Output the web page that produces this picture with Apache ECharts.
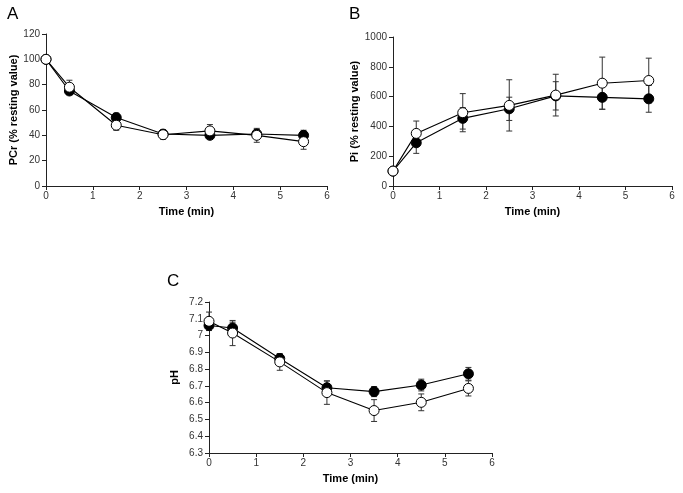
<!DOCTYPE html>
<html>
<head>
<meta charset="utf-8">
<script src="https://cdn.jsdelivr.net/npm/echarts@6/dist/echarts.min.js"></script>
<style>
html,body{margin:0;padding:0;background:#fff;}
#chart{width:683px;height:493px;}
</style>
</head>
<body>
<div id="chart"></div>
<script>
// Time points (min)
var times = [0, 0.5, 1.5, 2.5, 3.5, 4.5, 5.5];

// Panel A: PCr (% resting value)
var pcrFilled    = [100, 75, 54, 41, 40, 41, 40];
var pcrFilledErr = [0, 2.5, 3.5, 3, 2, 3.5, 4];
var pcrOpen      = [100, 78, 48, 40.5, 43.5, 40, 35];
var pcrOpenErr   = [0, 5.5, 4, 3.5, 5, 5.5, 6];

// Panel B: Pi (% resting value)
var piFilled    = [100, 290, 454, 518, 605, 595, 585];
var piFilledErr = [0, 71, 72, 78, 95, 80, 90];
var piOpen      = [100, 353, 492, 541, 610, 690, 708];
var piOpenErr   = [0, 83, 128, 172, 140, 175, 150];

// Panel C: pH
var phFilled    = [7.06, 7.045, 6.863, 6.689, 6.666, 6.705, 6.772];
var phFilledErr = [0.03, 0.035, 0.025, 0.04, 0.03, 0.035, 0.038];
var phOpen      = [7.085, 7.015, 6.843, 6.66, 6.553, 6.602, 6.685];
var phOpenErr   = [0.055, 0.075, 0.05, 0.07, 0.065, 0.05, 0.045];

var panelLabels = ['A', 'B', 'C'];
var xTitle = 'Time (min)';
var yTitles = ['PCr (% resting value)', 'Pi (% resting value)', 'pH'];

function pts(vals) { return times.map(function (t, i) { return [t, vals[i]]; }); }
function errPts(vals, errs) {
  return times.map(function (t, i) { return [t, vals[i] - errs[i], vals[i] + errs[i]]; });
}

function errRender(params, api) {
  var x = api.value(0), lo = api.value(1), hi = api.value(2);
  if (hi - lo === 0) return;
  var pTop = api.coord([x, hi]);
  var pBot = api.coord([x, lo]);
  var w = 3;
  var st = { stroke: '#333', lineWidth: 1 };
  return {
    type: 'group',
    children: [
      { type: 'line', shape: { x1: pTop[0], y1: pTop[1], x2: pBot[0], y2: pBot[1] }, style: st },
      { type: 'line', shape: { x1: pTop[0] - w, y1: pTop[1], x2: pTop[0] + w, y2: pTop[1] }, style: st },
      { type: 'line', shape: { x1: pBot[0] - w, y1: pBot[1], x2: pBot[0] + w, y2: pBot[1] }, style: st }
    ]
  };
}

var font = '"Liberation Sans", Arial, sans-serif';

function xAx(idx) {
  return {
    gridIndex: idx, type: 'value', min: 0, max: 6, interval: 1,
    name: xTitle, nameLocation: 'middle', nameGap: 20,
    nameTextStyle: { fontFamily: font, fontWeight: 'bold', fontSize: 11, color: '#000' },
    axisLine: { lineStyle: { color: '#222', width: 1 } },
    axisTick: { inside: false, length: 4, lineStyle: { color: '#222' } },
    axisLabel: { fontFamily: font, fontSize: 10, color: '#333', margin: 5 },
    splitLine: { show: false }
  };
}
function yAx(idx, min, max, interval, name, gap) {
  return {
    gridIndex: idx, type: 'value', min: min, max: max, interval: interval,
    name: name, nameLocation: 'middle', nameGap: gap,
    nameTextStyle: { fontFamily: font, fontWeight: 'bold', fontSize: 11, color: '#000' },
    axisLine: { show: true, lineStyle: { color: '#222', width: 1 } },
    axisTick: { show: true, inside: false, length: 4, lineStyle: { color: '#222' } },
    axisLabel: {
      fontFamily: font, fontSize: 10, color: '#333', margin: 6,
      formatter: function (v) { return String(+v.toFixed(1)); }
    },
    splitLine: { show: false }
  };
}

function lineSeries(idx, data, filled) {
  return {
    type: 'line', xAxisIndex: idx, yAxisIndex: idx, data: pts(data),
    symbol: 'circle', symbolSize: 10, z: filled ? 3 : 4,
    lineStyle: { color: '#000', width: 1.1 },
    itemStyle: { color: filled ? '#000' : '#fff', borderColor: '#000', borderWidth: 1 },
    animation: false
  };
}
function errSeries(idx, vals, errs) {
  return {
    type: 'custom', xAxisIndex: idx, yAxisIndex: idx, data: errPts(vals, errs),
    renderItem: errRender, z: 2, animation: false,
    encode: { x: 0, y: [1, 2] }
  };
}

var chart = echarts.init(document.getElementById('chart'), null, { renderer: 'canvas' });
chart.setOption({
  backgroundColor: '#fff',
  animation: false,
  grid: [
    { left: 46, top: 34, width: 281, height: 152 },
    { left: 393, top: 37, width: 279, height: 149 },
    { left: 209, top: 302, width: 283, height: 151 }
  ],
  xAxis: [xAx(0), xAx(1), xAx(2)],
  yAxis: [
    yAx(0, 0, 120, 20, yTitles[0], 27),
    yAx(1, 0, 1000, 200, yTitles[1], 31),
    yAx(2, 6.3, 7.2, 0.1, yTitles[2], 29)
  ],
  graphic: [
    { type: 'text', left: 7, top: 6, style: { text: panelLabels[0], font: '17px ' + font, fill: '#000' } },
    { type: 'text', left: 349, top: 6, style: { text: panelLabels[1], font: '17px ' + font, fill: '#000' } },
    { type: 'text', left: 167, top: 273, style: { text: panelLabels[2], font: '17px ' + font, fill: '#000' } }
  ],
  series: [
    errSeries(0, pcrFilled, pcrFilledErr), errSeries(0, pcrOpen, pcrOpenErr),
    lineSeries(0, pcrFilled, true), lineSeries(0, pcrOpen, false),
    errSeries(1, piFilled, piFilledErr), errSeries(1, piOpen, piOpenErr),
    lineSeries(1, piFilled, true), lineSeries(1, piOpen, false),
    errSeries(2, phFilled, phFilledErr), errSeries(2, phOpen, phOpenErr),
    lineSeries(2, phFilled, true), lineSeries(2, phOpen, false)
  ]
});
</script>
</body>
</html>
